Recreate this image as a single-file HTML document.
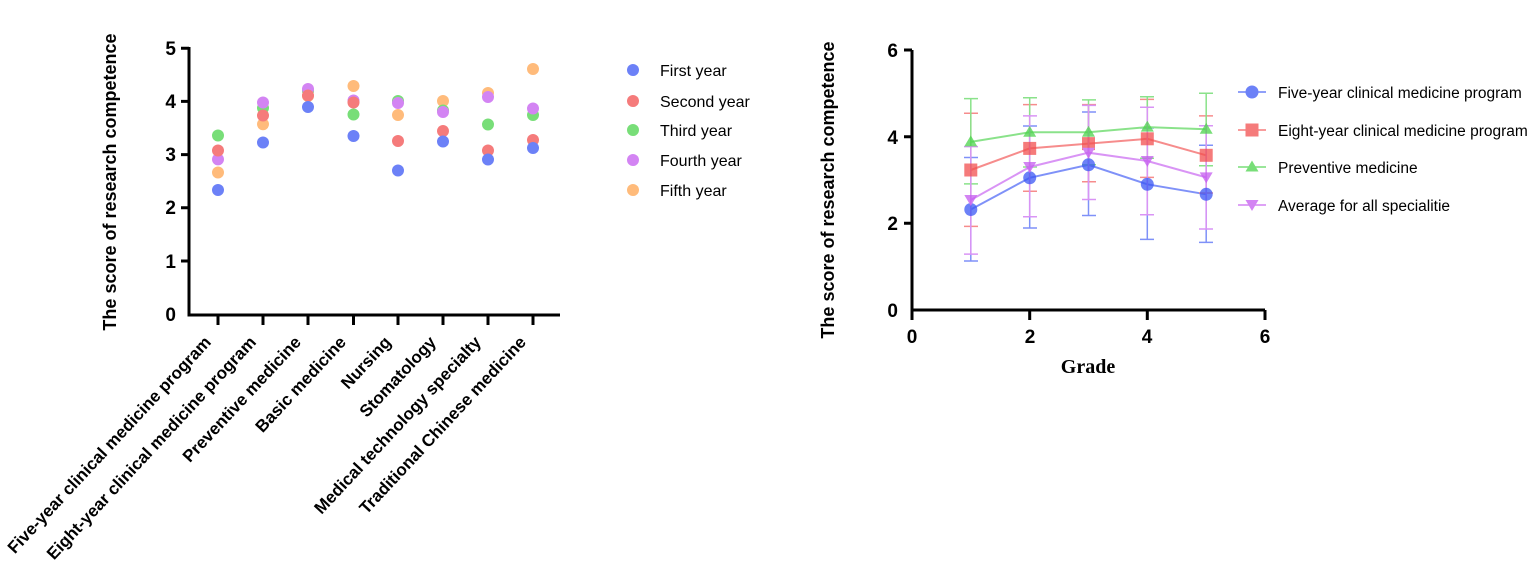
<!DOCTYPE html>
<html><head><meta charset="utf-8"><style>body{margin:0;background:#fff}svg{display:block}text{font-family:"Liberation Sans",Arial,sans-serif}</style></head>
<body>
<svg width="1535" height="579" viewBox="0 0 1535 579" xmlns="http://www.w3.org/2000/svg">
<!-- LEFT CHART -->
<g stroke="#000" stroke-width="3" fill="none">
<path d="M189 47 V315 H560"/>
<path d="M181 48.3H189M181 101.4H189M181 154.6H189M181 207.8H189M181 261H189"/>
<path d="M218 315v10M263 315v10M308 315v10M353.5 315v10M398 315v10M443 315v10M488 315v10M533 315v10"/>
</g>
<g font-size="19" font-weight="bold" text-anchor="end">
<text x="176" y="321">0</text><text x="176" y="268">1</text><text x="176" y="214">2</text><text x="176" y="161">3</text><text x="176" y="108">4</text><text x="176" y="55">5</text>
</g>
<text transform="translate(116,182) rotate(-90)" font-size="18" font-weight="bold" text-anchor="middle">The score of research competence</text>
<g font-size="17" font-weight="bold" text-anchor="end">
<text transform="translate(212,343) rotate(-47)">Five-year clinical medicine program</text>
<text transform="translate(257,343) rotate(-47)">Eight-year clinical medicine program</text>
<text transform="translate(302,343) rotate(-47)">Preventive medicine</text>
<text transform="translate(347,343) rotate(-47)">Basic medicine</text>
<text transform="translate(392,343) rotate(-47)">Nursing</text>
<text transform="translate(437,343) rotate(-47)">Stomatology</text>
<text transform="translate(482,343) rotate(-47)">Medical technology specialty</text>
<text transform="translate(527,343) rotate(-47)">Traditional Chinese medicine</text>
</g>
<g opacity="0.75">
<g fill="#ffa54f"><circle cx="218" cy="172.5" r="6"/><circle cx="263" cy="124.3" r="6"/><circle cx="308" cy="96" r="6"/><circle cx="353.5" cy="86" r="6"/><circle cx="398" cy="115" r="6"/><circle cx="443" cy="101" r="6"/><circle cx="488" cy="93" r="6"/><circle cx="533" cy="69" r="6"/></g>
<g fill="#4cd44c"><circle cx="218" cy="135.5" r="6"/><circle cx="263" cy="108" r="6"/><circle cx="308" cy="91" r="6"/><circle cx="353.5" cy="114.5" r="6"/><circle cx="398" cy="101" r="6"/><circle cx="443" cy="110.5" r="6"/><circle cx="488" cy="124.5" r="6"/><circle cx="533" cy="115" r="6"/></g>
<g fill="#c55cf0"><circle cx="218" cy="159.4" r="6"/><circle cx="263" cy="102.5" r="6"/><circle cx="308" cy="89" r="6"/><circle cx="353.5" cy="100.5" r="6"/><circle cx="398" cy="103" r="6"/><circle cx="443" cy="112" r="6"/><circle cx="488" cy="97" r="6"/><circle cx="533" cy="108.5" r="6"/></g>
<g fill="#f24f4f"><circle cx="218" cy="150.5" r="6"/><circle cx="263" cy="115.5" r="6"/><circle cx="308" cy="95.5" r="6"/><circle cx="353.5" cy="102.5" r="6"/><circle cx="398" cy="141" r="6"/><circle cx="443" cy="131" r="6"/><circle cx="488" cy="150.5" r="6"/><circle cx="533" cy="140" r="6"/></g>
<g fill="#3b57f5"><circle cx="218" cy="190" r="6"/><circle cx="263" cy="142.5" r="6"/><circle cx="308" cy="107" r="6"/><circle cx="353.5" cy="136" r="6"/><circle cx="398" cy="170.5" r="6"/><circle cx="443" cy="141.5" r="6"/><circle cx="488" cy="159.5" r="6"/><circle cx="533" cy="148" r="6"/></g>
<circle cx="633" cy="70" r="6" fill="#3b57f5"/><circle cx="633" cy="101" r="6" fill="#f24f4f"/><circle cx="633" cy="130" r="6" fill="#4cd44c"/><circle cx="633" cy="160" r="6" fill="#c55cf0"/><circle cx="633" cy="190" r="6" fill="#ffa54f"/>
</g>
<g font-size="16"><text x="660" y="76">First year</text><text x="660" y="107">Second year</text><text x="660" y="136">Third year</text><text x="660" y="166">Fourth year</text><text x="660" y="196">Fifth year</text></g>

<!-- RIGHT CHART -->
<g stroke="#000" stroke-width="3" fill="none">
<path d="M912 50 V310 H1265"/>
<path d="M904 50H912M904 136.7H912M904 223.3H912"/>
<path d="M912 310v10M1029.7 310v10M1147.3 310v10M1265 310v10"/>
</g>
<g font-size="19" font-weight="bold" text-anchor="end">
<text x="898" y="317">0</text><text x="898" y="230">2</text><text x="898" y="144">4</text><text x="898" y="57">6</text>
</g>
<g font-size="19" font-weight="bold" text-anchor="middle">
<text x="912" y="343">0</text><text x="1030" y="343">2</text><text x="1147" y="343">4</text><text x="1265" y="343">6</text>
</g>
<text x="1088" y="373" style="font-family:'Liberation Serif',serif" font-size="20" font-weight="bold" text-anchor="middle">Grade</text>
<text transform="translate(834,190) rotate(-90)" font-size="18" font-weight="bold" text-anchor="middle">The score of research competence</text>
<g opacity="0.65" stroke-width="1.5" fill="none">
<g stroke="#3b57f5">
<path d="M970.8 261V157.5M964 261h14M964 157.5h14M1029.7 228V126M1023 228h14M1023 126h14M1088.5 215.5V112M1082 215.5h14M1082 112h14M1147.3 239.4V128M1140 239.4h14M1140 128h14M1206.2 242.4V145.3M1199 242.4h14M1199 145.3h14"/>
<path d="M970.8 209.5L1029.7 177.8L1088.5 164.8L1147.3 184.3L1206.2 194.3" stroke-width="2"/></g>
<g stroke="#f24f4f">
<path d="M970.8 226.4V113.3M964 226.4h14M964 113.3h14M1029.7 191.3V104.6M1023 191.3h14M1023 104.6h14M1088.5 181.7V104.6M1082 181.7h14M1082 104.6h14M1147.3 177.4V99.4M1140 177.4h14M1140 99.4h14M1206.2 193V115.9M1199 193h14M1199 115.9h14"/>
<path d="M970.8 170L1029.7 148.4L1088.5 143.6L1147.3 138.8L1206.2 155.3" stroke-width="2"/></g>
<g stroke="#4cd44c">
<path d="M970.8 183.9V98.6M964 183.9h14M964 98.6h14M1029.7 167V97.7M1023 167h14M1023 97.7h14M1088.5 164.8V99.9M1082 164.8h14M1082 99.9h14M1147.3 158.3V96.8M1140 158.3h14M1140 96.8h14M1206.2 165.7V93.3M1199 165.7h14M1199 93.3h14"/>
<path d="M970.8 141.9L1029.7 132.3L1088.5 132.3L1147.3 127.1L1206.2 129.3" stroke-width="2"/></g>
<g stroke="#c55cf0">
<path d="M970.8 254.1V146.6M964 254.1h14M964 146.6h14M1029.7 216.8V115.9M1023 216.8h14M1023 115.9h14M1088.5 199.5V105.4M1082 199.5h14M1082 105.4h14M1147.3 214.7V107.2M1140 214.7h14M1140 107.2h14M1206.2 229V125.8M1199 229h14M1199 125.8h14"/>
<path d="M970.8 200L1029.7 167L1088.5 152.7L1147.3 161L1206.2 177.4" stroke-width="2"/></g>
</g>
<g opacity="0.75">
<g fill="#3b57f5"><circle cx="970.8" cy="209.5" r="6.5"/><circle cx="1029.7" cy="177.8" r="6.5"/><circle cx="1088.5" cy="164.8" r="6.5"/><circle cx="1147.3" cy="184.3" r="6.5"/><circle cx="1206.2" cy="194.3" r="6.5"/></g>
<g fill="#f24f4f"><rect x="964.3" y="163.5" width="13" height="13"/><rect x="1023.2" y="141.9" width="13" height="13"/><rect x="1082" y="137.1" width="13" height="13"/><rect x="1140.8" y="132.3" width="13" height="13"/><rect x="1199.7" y="148.8" width="13" height="13"/></g>
<g fill="#4cd44c"><path d="M970.8 135.4l6.5 11h-13z M1029.7 125.8l6.5 11h-13z M1088.5 125.8l6.5 11h-13z M1147.3 120.6l6.5 11h-13z M1206.2 122.8l6.5 11h-13z"/></g>
<g fill="#c55cf0"><path d="M970.8 206l6.5-11h-13z M1029.7 173l6.5-11h-13z M1088.5 158.7l6.5-11h-13z M1147.3 167l6.5-11h-13z M1206.2 183.4l6.5-11h-13z"/></g>
<g stroke-width="1.5"><path d="M1238 92H1266" stroke="#3b57f5"/><circle cx="1252" cy="92" r="6.5" fill="#3b57f5"/>
<path d="M1238 130H1266" stroke="#f24f4f"/><rect x="1245.5" y="123.5" width="13" height="13" fill="#f24f4f"/>
<path d="M1238 167H1266" stroke="#4cd44c"/><path d="M1252 160.5l6.5 11h-13z" fill="#4cd44c"/>
<path d="M1238 205H1266" stroke="#c55cf0"/><path d="M1252 211l6.5-11h-13z" fill="#c55cf0"/></g>
</g>
<g font-size="15.5"><text x="1278" y="98">Five-year clinical medicine program</text><text x="1278" y="136">Eight-year clinical medicine program</text><text x="1278" y="173">Preventive medicine</text><text x="1278" y="211">Average for all specialitie</text></g>
</svg>
</body></html>
